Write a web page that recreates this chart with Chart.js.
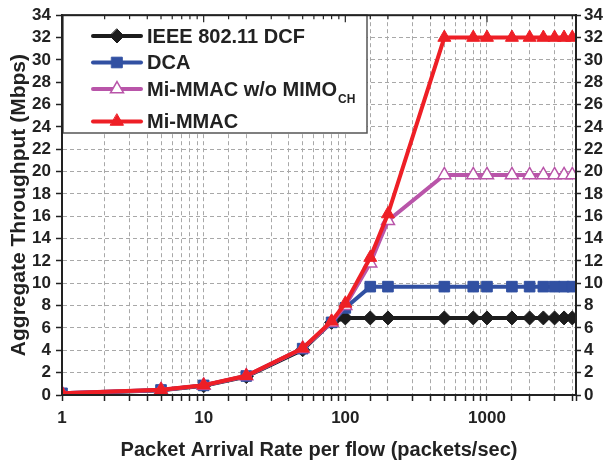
<!DOCTYPE html>
<html><head><meta charset="utf-8">
<script src="https://cdn.jsdelivr.net/npm/chart.js@4/dist/chart.umd.min.js"></script>
<style>html,body{margin:0;padding:0;background:#fff}canvas{display:block}</style>
</head><body>
<canvas id="c" width="605" height="466"></canvas>
<script>
// ---- data ----
const rates      = [1, 5, 10, 20, 50, 80, 100, 150, 200, 500, 800, 1000, 1500, 2000, 2500, 3000, 3500, 4000];
const ieeeDcf    = [0.12, 0.42, 0.82, 1.65, 4.05, 6.5, 6.9, 6.9, 6.9, 6.9, 6.9, 6.9, 6.9, 6.9, 6.9, 6.9, 6.9, 6.9];
const dca        = [0.15, 0.45, 0.86, 1.7, 4.15, 6.5, 7.8, 9.7, 9.7, 9.7, 9.7, 9.7, 9.7, 9.7, 9.7, 9.7, 9.7, 9.7];
const miNoMimo   = [0.15, 0.45, 0.86, 1.7, 4.15, 6.5, 8.0, 11.8, 15.6, 19.7, 19.7, 19.7, 19.7, 19.7, 19.7, 19.7, 19.7, 19.7];
const miMmac     = [0.15, 0.47, 0.88, 1.72, 4.18, 6.6, 8.2, 12.3, 16.2, 32.0, 32.0, 32.0, 32.0, 32.0, 32.0, 32.0, 32.0, 32.0];
const seriesNames = ['IEEE 802.11 DCF', 'DCA', 'Mi-MMAC w/o MIMO', 'Mi-MMAC'];
const seriesSubs  = ['', '', 'CH', ''];
const xTickLabels = [1, 10, 100, 1000];
const xRange = [1, 4250];
const yRange = [0, 34];
const yStep = 2;
const xTitle = 'Packet Arrival Rate per flow (packets/sec)';
const yTitle = 'Aggregate Throughput (Mbps)';

const FONT = '"Liberation Sans", Arial, Helvetica, sans-serif';
const TXT = '#222';
const styles = [
  {color: '#1c1c1c', fill: '#1c1c1c', shape: 'rectRot', r: 7},
  {color: '#3150a2', fill: '#3150a2', shape: 'rect', r: 7.5},
  {color: '#b955a9', fill: '#ffffff', shape: 'triangle', r: 7.5},
  {color: '#ee1f26', fill: '#ee1f26', shape: 'triangle', r: 7.5}
];
const seriesData = [ieeeDcf, dca, miNoMimo, miMmac];
const order = [3, 2, 1, 0];

const datasets = seriesData.map((arr, k) => ({
  label: seriesNames[k] + (seriesSubs[k] ? ' ' + seriesSubs[k] : ''),
  data: rates.map((x, i) => ({x: x, y: arr[i]})),
  borderColor: styles[k].color,
  backgroundColor: styles[k].fill,
  borderWidth: 4,
  pointStyle: styles[k].shape,
  pointRadius: styles[k].r,
  pointBorderWidth: k === 2 ? 1.5 : 1,
  pointBorderColor: styles[k].color,
  pointBackgroundColor: styles[k].fill,
  tension: 0,
  order: order[k]
}));

function drawMarker(ctx, shape, x, y, r, fill, stroke, lw) {
  ctx.save();
  ctx.beginPath();
  if (shape === 'rectRot') {
    ctx.moveTo(x, y - r); ctx.lineTo(x + r, y); ctx.lineTo(x, y + r); ctx.lineTo(x - r, y);
  } else if (shape === 'rect') {
    const s = r * Math.SQRT1_2;
    ctx.rect(x - s, y - s, 2 * s, 2 * s);
  } else {
    ctx.moveTo(x, y - r);
    ctx.lineTo(x + r * Math.sin(2 * Math.PI / 3), y + r * 0.5);
    ctx.lineTo(x - r * Math.sin(2 * Math.PI / 3), y + r * 0.5);
  }
  ctx.closePath();
  ctx.fillStyle = fill; ctx.fill();
  ctx.lineWidth = lw; ctx.strokeStyle = stroke; ctx.stroke();
  ctx.restore();
}

const framePlugin = {
  id: 'frame',
  afterDraw(chart) {
    const {ctx, chartArea: a} = chart;
    const xs = chart.scales.x;
    // legend box
    ctx.save();
    const lb = {l: a.left + 1, t: a.top, r: 367, b: 133};
    ctx.fillStyle = '#fff';
    ctx.fillRect(lb.l, lb.t, lb.r - lb.l, lb.b - lb.t);
    ctx.strokeStyle = '#555'; ctx.lineWidth = 1.5;
    ctx.strokeRect(lb.l, lb.t, lb.r - lb.l, lb.b - lb.t);
    const rows = [36, 62.5, 89, 121.5];
    for (let k = 0; k < 4; k++) {
      const y = rows[k];
      ctx.beginPath(); ctx.moveTo(93, y); ctx.lineTo(141, y);
      ctx.strokeStyle = styles[k].color; ctx.lineWidth = 4; ctx.lineCap = 'round'; ctx.stroke();
      drawMarker(ctx, styles[k].shape, 117, y, styles[k].r, styles[k].fill, styles[k].color, k === 2 ? 1.5 : 1);
      ctx.fillStyle = TXT; ctx.textBaseline = 'middle'; ctx.textAlign = 'left';
      ctx.font = 'bold 20px ' + FONT;
      ctx.fillText(seriesNames[k], 147, y + 1);
      if (seriesSubs[k]) {
        const w = ctx.measureText(seriesNames[k]).width;
        ctx.font = 'bold 12px ' + FONT;
        ctx.fillText(seriesSubs[k], 147 + w + 1, y + 11);
      }
    }
    // frame
    ctx.strokeStyle = '#222'; ctx.lineWidth = 2; ctx.lineCap = 'butt';
    ctx.strokeRect(a.left, a.top, a.right - a.left, a.bottom - a.top);
    // top ticks (inward)
    ctx.lineWidth = 1.2;
    xs.ticks.forEach(t => {
      const px = xs.getPixelForValue(t.value);
      if (px <= a.left + 1 || px >= a.right - 1) return;
      const major = Math.abs(Math.log10(t.value) - Math.round(Math.log10(t.value))) < 1e-9;
      ctx.beginPath(); ctx.moveTo(px, a.top); ctx.lineTo(px, a.top + (major ? 7 : 4)); ctx.stroke();
    });
    ctx.restore();
  }
};

const gridCommon = {color: '#a8a8a8', lineWidth: 1, tickColor: '#222', tickWidth: 1.5, tickBorderDash: []};

new Chart(document.getElementById('c'), {
  type: 'line',
  data: {datasets: datasets},
  options: {
    responsive: false,
    animation: false,
    devicePixelRatio: 1,
    layout: {padding: {top: 12, left: 0, right: 0, bottom: 0}},
    plugins: {legend: {display: false}, tooltip: {enabled: false}},
    scales: {
      x: {
        type: 'logarithmic', position: 'bottom', min: xRange[0], max: xRange[1],
        grid: Object.assign({}, gridCommon, {tickLength: 6}),
        border: {display: true, color: '#222', width: 2, dash: [4, 3]},
        ticks: {
          autoSkip: false, maxRotation: 0, padding: 7, color: TXT,
          font: {family: FONT, size: 17, weight: 'bold'},
          callback: v => xTickLabels.includes(v) ? String(v) : ''
        },
        title: {display: true, text: xTitle, color: TXT, font: {family: FONT, size: 20, weight: 'bold'}, padding: {top: 0, bottom: 4}},
        afterFit: s => { s.height = 71; }
      },
      y: {
        type: 'linear', position: 'left', min: yRange[0], max: yRange[1],
        grid: Object.assign({}, gridCommon, {tickLength: 6}),
        border: {display: true, color: '#222', width: 2, dash: [4, 3]},
        ticks: {stepSize: yStep, autoSkip: false, padding: 5, color: TXT, font: {family: FONT, size: 17, weight: 'bold'}},
        title: {display: true, text: yTitle, color: TXT, font: {family: FONT, size: 21, weight: 'bold'}, padding: {top: 7, bottom: 0}},
        afterFit: s => { s.width = 62; }
      },
      y2: {
        type: 'linear', position: 'right', min: yRange[0], max: yRange[1],
        grid: Object.assign({}, gridCommon, {drawOnChartArea: false, tickLength: 5}),
        border: {display: true, color: '#222', width: 2},
        ticks: {stepSize: yStep, autoSkip: false, padding: 3, color: TXT, font: {family: FONT, size: 17, weight: 'bold'}},
        afterFit: s => { s.width = 29; }
      }
    }
  },
  plugins: [framePlugin]
});
</script>
</body></html>
